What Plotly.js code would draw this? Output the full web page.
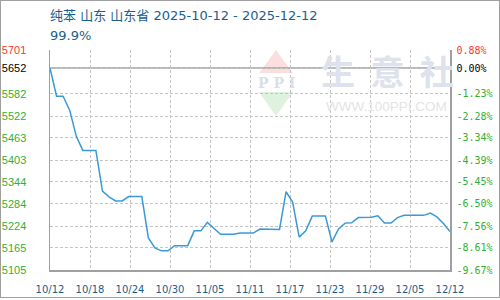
<!DOCTYPE html>
<html>
<head>
<meta charset="utf-8">
<script src="https://cdn.plot.ly/plotly-3.0.1.min.js"></script>
<style>
html,body{margin:0;padding:0;background:#fff;}
#chart{position:absolute;left:0;top:0;width:500px;height:300px;}
#frame{position:absolute;left:0;top:0;width:500px;height:298px;box-sizing:border-box;border:1px solid #a0a0a0;pointer-events:none;}
</style>
</head>
<body>
<div id="chart"></div>
<div id="frame"></div>
<script>
// ---- data ----
const startDate = '2025-10-12';
const endDate = '2025-12-12';
const prices = [
  5652, 5576, 5576, 5538, 5468, 5429, 5429, 5429, 5319, 5303,
  5292, 5292, 5304, 5304, 5304, 5192, 5165, 5157, 5157, 5171,
  5171, 5171, 5211, 5211, 5234, 5218, 5202, 5202, 5202, 5205,
  5205, 5205, 5216, 5215, 5215, 5215, 5317, 5289, 5194, 5211,
  5251, 5251, 5251, 5181, 5216, 5232, 5233, 5247, 5248, 5248,
  5252, 5232, 5232, 5247, 5253, 5253, 5253, 5253, 5259, 5249,
  5231, 5209
];
const priceTicks = [5105, 5165, 5224, 5284, 5344, 5403, 5463, 5522, 5582, 5652, 5701];
const pctTicks = ['-9.67%', '-8.61%', '-7.56%', '-6.50%', '-5.45%', '-4.39%', '-3.34%', '-2.28%', '-1.23%', '0.00%', '0.88%'];
const dateLabels = ['10/12', '10/18', '10/24', '10/30', '11/05', '11/11', '11/17', '11/23', '11/29', '12/05', '12/12'];
const baseValue = 5652;
const titleText = '纯苯 山东 山东省 2025-10-12 - 2025-12-12';
const subtitleText = '99.9%';

// ---- build ----
const DAY = 86400000;
const t0 = Date.parse(startDate + 'T00:00:00Z');
const t1 = Date.parse(endDate + 'T00:00:00Z');
const dates = prices.map((_, i) => new Date(t0 + i * DAY).toISOString().slice(0, 10));
const xTickVals = dateLabels.map((_, k) => t0 + k * (t1 - t0) / (dateLabels.length - 1));

const RED = '#ff3333', GREEN = '#33b033', BLACK = '#000000';
function colorFor(v) { return v > baseValue ? RED : (v === baseValue ? BLACK : GREEN); }
const leftText = priceTicks.map(v => `<span style="color:${colorFor(v)}">${v}</span>`);
const rightText = priceTicks.map((v, i) => `<span style="color:${colorFor(v)}">${pctTicks[i]}</span>`);

const traces = [
  {x: dates, y: prices, type: 'scatter', mode: 'lines', line: {color: '#3a9ad9', width: 1.5}, hoverinfo: 'x+y', yaxis: 'y'},
  {x: dates, y: prices, type: 'scatter', mode: 'lines', line: {color: 'rgba(0,0,0,0)', width: 1}, hoverinfo: 'skip', yaxis: 'y2', showlegend: false}
];

const gridStyle = {showgrid: true, gridcolor: '#c4c4c4', griddash: '3px,2px', gridwidth: 1};

const layout = {
  width: 500, height: 300,
  margin: {l: 50, r: 50, t: 50, b: 30},
  paper_bgcolor: '#ffffff', plot_bgcolor: '#ffffff',
  showlegend: false,
  xaxis: Object.assign({
    type: 'date', range: [t0, t1], tickvals: xTickVals, ticktext: dateLabels,
    showline: true, linecolor: '#a0a0a0', linewidth: 1.5, ticks: '', zeroline: false,
    tickfont: {family: 'DejaVu Sans', size: 10, color: '#1a5e8c'}, ticklabelstandoff: 9
  }, gridStyle),
  yaxis: Object.assign({
    range: [priceTicks[0], priceTicks[priceTicks.length - 1]], tickvals: priceTicks, ticktext: leftText,
    showline: true, linecolor: '#a0a0a0', linewidth: 1.5, ticks: '', zeroline: false,
    tickfont: {family: 'Liberation Sans', size: 11, color: GREEN}, ticklabelstandoff: 20
  }, gridStyle),
  yaxis2: {
    overlaying: 'y', side: 'right', anchor: 'x',
    range: [priceTicks[0], priceTicks[priceTicks.length - 1]], tickvals: priceTicks, ticktext: rightText,
    showgrid: false, showline: true, linecolor: '#a0a0a0', linewidth: 1.5, ticks: '', zeroline: false,
    tickfont: {family: 'DejaVu Sans Mono', size: 10, color: GREEN}, ticklabelstandoff: 3
  },
  shapes: [
    {type: 'path', xref: 'paper', yref: 'paper', path: 'M 0.565 1 L 0.523 0.895 L 0.607 0.895 Z', fillcolor: '#fbdede', line: {width: 0}, layer: 'below'},
    {type: 'path', xref: 'paper', yref: 'paper', path: 'M 0.565 0.7 L 0.5225 0.809 L 0.6075 0.809 Z', fillcolor: '#dff1df', line: {width: 0}, layer: 'below'},
    {type: 'line', xref: 'paper', x0: 0, x1: 1, yref: 'y', y0: baseValue, y1: baseValue, line: {color: '#a0a0a0', width: 1.5}, layer: 'between'}
  ],
  annotations: [
    {xref: 'paper', yref: 'paper', x: 0, y: 1, xanchor: 'left', yanchor: 'middle', yshift: 35, xshift: -2, showarrow: false,
     text: titleText, font: {family: 'DejaVu Sans, Noto Sans CJK SC', size: 13, color: '#1a5e8c'}},
    {xref: 'paper', yref: 'paper', x: 0, y: 1, xanchor: 'left', yanchor: 'middle', yshift: 15, xshift: -2, showarrow: false,
     text: subtitleText, font: {family: 'DejaVu Sans', size: 13, color: '#1a5e8c'}},
    {xref: 'paper', yref: 'paper', x: 0.565, y: 0.85, xanchor: 'center', yanchor: 'middle', showarrow: false,
     text: '<b>P P I</b>', font: {family: 'DejaVu Serif', size: 14, color: '#d8dfea'}},
    {xref: 'paper', yref: 'paper', x: 0.8425, y: 0.905, xanchor: 'center', yanchor: 'middle', showarrow: false,
     text: '<b>生  意  社</b>', font: {family: 'Noto Sans CJK SC', size: 34, color: '#dde2ec'}},
    {xref: 'paper', yref: 'paper', x: 0.84, y: 0.745, xanchor: 'center', yanchor: 'middle', showarrow: false,
     text: 'WWW.100PPI.COM', font: {family: 'Liberation Sans', size: 13.5, color: '#e4e4e4'}}
  ]
};

Plotly.newPlot('chart', traces, layout, {staticPlot: true, displayModeBar: false});
</script>
</body>
</html>
